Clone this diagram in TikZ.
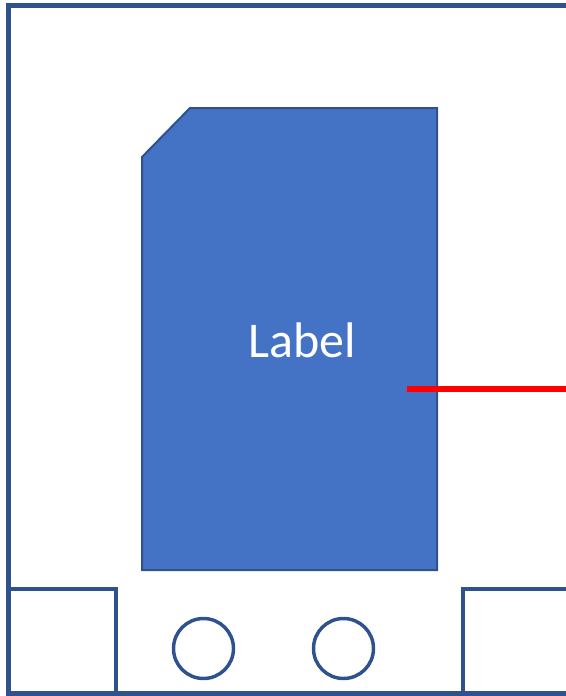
\documentclass[tikz,border=0pt]{standalone}
\usepackage{fontspec}
\setmainfont{Carlito}
\usepackage{xcolor}
\usetikzlibrary{positioning}
\definecolor{frameblue}{HTML}{2F528F}
\definecolor{cardblue}{HTML}{4472C4}

\begin{document}
\begin{tikzpicture}[x=0.75pt,y=-0.75pt,line join=miter]
    \tikzstyle{wall}=[draw=frameblue,line width=3.4pt]
    \tikzstyle{slot}=[draw=frameblue,line width=2.9pt]
    \tikzstyle{hole}=[draw=frameblue,line width=2.6pt]
    \tikzstyle{card}=[fill=cardblue,draw=frameblue,line width=1.5pt]
    \useasboundingbox (0,0) rectangle (566,696);
    \clip (0,0) rectangle (566,696);
% outer frame, open on the right
\draw[wall] (580,5.5) -- (8.5,5.5) -- (8.5,693.5) -- (580,693.5);
% corner boxes and holes
\draw[slot] (8.5,589) -| (116,693.5);
\draw[slot] (580,589) -| (463,693.5);
\draw[hole] (203.5,648.5) circle (30);
\draw[hole] (343.5,648.5) circle (30);
% card
\draw[card] (190,108) -- (437,108) -- (437,570) -- (142,570) -- (142,157) -- cycle;
\node[anchor=base,text=white,font=\fontsize{37.5}{45}\selectfont,inner sep=0pt] (lbl) at (302,357) {Label};
\coordinate (pin) at (407,389);
\coordinate (exit) at (580,389);
\draw[red,line width=5.2pt] (pin) -- (exit);
\end{tikzpicture}
\end{document}
